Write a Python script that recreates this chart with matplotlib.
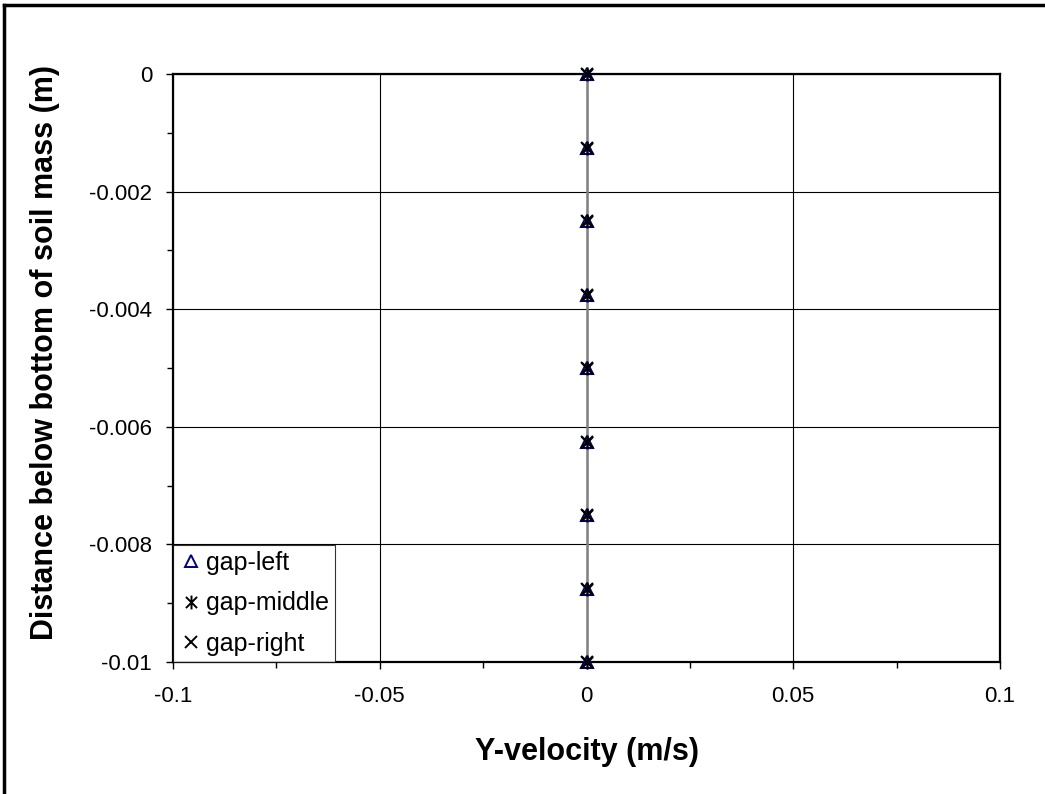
import matplotlib
matplotlib.use("Agg")
import matplotlib.pyplot as plt
from matplotlib.path import Path
from matplotlib.lines import Line2D

plt.rcParams['font.family'] = ['Liberation Sans', 'DejaVu Sans']

depth = [0, -0.00125, -0.0025, -0.00375, -0.005, -0.00625, -0.0075, -0.00875, -0.01]
vel_left = [0, 0, 0, 0, 0, 0, 0, 0, 0]
vel_middle = [0, 0, 0, 0, 0, 0, 0, 0, 0]
vel_right = [0, 0, 0, 0, 0, 0, 0, 0, 0]
series_names = ["gap-left", "gap-middle", "gap-right"]
x_ticks = [-0.1, -0.05, 0, 0.05, 0.1]
x_tick_labels = ["-0.1", "-0.05", "0", "0.05", "0.1"]
y_ticks = [0, -0.002, -0.004, -0.006, -0.008, -0.01]
y_tick_labels = ["0", "-0.002", "-0.004", "-0.006", "-0.008", "-0.01"]

star = Path([(0, -1), (0, 1), (-0.8, -0.8), (0.8, 0.8), (-0.8, 0.8), (0.8, -0.8)],
            [Path.MOVETO, Path.LINETO, Path.MOVETO, Path.LINETO, Path.MOVETO, Path.LINETO])

W, H = 1045, 794
fig = plt.figure(figsize=(W/100, H/100), dpi=100)
ax = fig.add_axes([173/W, 1-662/H, (1000-173)/W, (662-74)/H])

ax.set_xlim(-0.1, 0.1)
ax.set_ylim(-0.01, 0)
ax.set_xticks(x_ticks)
ax.set_xticklabels(x_tick_labels)
ax.set_yticks(y_ticks)
ax.set_yticklabels(y_tick_labels)
ax.set_xticks([-0.075, -0.025, 0.025, 0.075], minor=True)
ax.set_yticks([-0.001, -0.003, -0.005, -0.007, -0.009], minor=True)
ax.grid(True, which='major', color='black', linewidth=0.8)
ax.set_axisbelow(True)
ax.tick_params(axis='both', which='major', direction='out', length=5, width=1,
               labelsize=16, colors='black')
ax.tick_params(axis='y', which='major', pad=10)
ax.tick_params(axis='x', which='major', pad=12)
ax.tick_params(axis='both', which='minor', direction='out', length=4, width=1)
for s in ax.spines.values():
    s.set_linewidth(1.6)
    s.set_color('black')

ax.plot(vel_left, depth, color='#808080', linewidth=1.8, zorder=2)
ax.plot(vel_left, depth, linestyle='none', marker='^', markersize=9,
        markerfacecolor='none', markeredgecolor='#000080', markeredgewidth=1.5,
        label=series_names[0], zorder=3, clip_on=False)
ax.plot(vel_middle, depth, linestyle='none', marker=star, markersize=10,
        markeredgecolor='black', markeredgewidth=1.5, label=series_names[1],
        zorder=4, clip_on=False)
ax.plot(vel_right, depth, linestyle='none', marker='x', markersize=9,
        markeredgecolor='black', markeredgewidth=1.5, label=series_names[2],
        zorder=5, clip_on=False)

handles = [
    Line2D([], [], linestyle='none', marker='^', markersize=9, markerfacecolor='none',
           markeredgecolor='#000080', markeredgewidth=1.4),
    Line2D([], [], linestyle='none', marker=star, markersize=10, markeredgecolor='black',
           markeredgewidth=1.4),
    Line2D([], [], linestyle='none', marker='x', markersize=9, markeredgecolor='black',
           markeredgewidth=1.4),
]
leg = ax.legend(handles, series_names, loc='lower left', bbox_to_anchor=(0, 0),
                fontsize=18, frameon=True, fancybox=False, borderaxespad=0,
                handlelength=0.9, handletextpad=0.16, labelspacing=0.66,
                borderpad=0.25)
leg.get_frame().set_edgecolor('black')
leg.get_frame().set_linewidth(0.8)
leg.set_zorder(10)

fig.text(587/W, 1-752/H, "Y-velocity (m/s)", fontsize=22, fontweight='bold',
         ha='center', va='center')
fig.text(45/W, 1-352/H, "Distance below bottom of soil mass (m)", fontsize=22,
         fontweight='bold', ha='center', va='center', rotation=90)

fig.add_artist(Line2D([4/W, 4/W], [0, 1-5/H], transform=fig.transFigure,
                      color='black', linewidth=2.5))
fig.add_artist(Line2D([4/W, 1], [1-5/H, 1-5/H], transform=fig.transFigure,
                      color='black', linewidth=2.5))

fig.savefig("out.png", dpi=100)
